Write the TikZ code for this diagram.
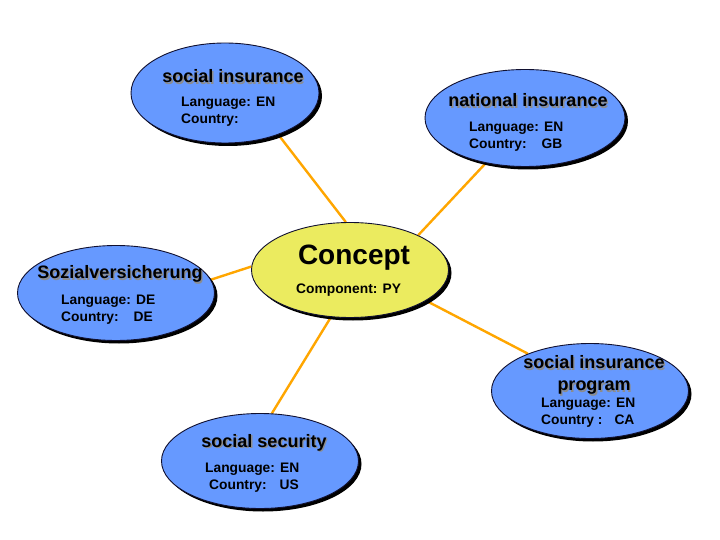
\documentclass[tikz,border=0pt]{standalone}
\usepackage{fontspec}
\setmainfont{Liberation Sans}
\usepackage{tikz}
\usetikzlibrary{positioning,shapes.geometric,shadows,backgrounds}
\definecolor{globo}{HTML}{6699FF}
\definecolor{nucleo}{HTML}{EBEB5F}
\definecolor{naranja}{HTML}{FFA600}
\definecolor{borde}{HTML}{101030}
\newcommand{\sombra}[1]{\makebox[0pt][l]{\hspace{1.3pt}\raisebox{-1.3pt}{\color{black!45}#1}}#1}
\tikzset{
  termino/.style={ellipse,draw=borde,line width=0.9pt,fill=globo,inner sep=0pt,
    minimum width=197pt,minimum height=95pt,
    drop shadow={shadow xshift=3pt,shadow yshift=-3pt,fill=black,opacity=1}},
  concepto/.style={termino,fill=nucleo},
  enlace/.style={draw=naranja,line width=2.4pt},
  titulo/.style={font=\fontsize{18}{21}\selectfont\bfseries,inner sep=0pt},
  dato/.style={font=\fontsize{13.8}{17}\selectfont\bfseries,align=left,inner sep=0pt,anchor=west},
}
\begin{document}
\begin{tikzpicture}[x=1pt,y=-1pt]
  \useasboundingbox (0,0) rectangle (720,540);
  \node[concepto] (concept) at (350,270) {};
  \node[termino,minimum width=188pt,minimum height=100pt] (si) at (225,93) {};
  \node[termino,minimum width=200pt,minimum height=97pt] (ni) at (525,118) {};
  \node[termino] (soz) at (116,293) {};
  \node[termino] (prog) at (590,391) {};
  \node[termino] (ss) at (260,461) {};
  % textos
  \node[font=\fontsize{28}{31}\selectfont\bfseries,inner sep=0pt] (concept-t) at (354,258) {Concept};
  \node[dato] (concept-d) at (296,290) {Component: PY};
  \node[titulo] (si-t) at (233,77) {\sombra{social insurance}};
  \node[dato] (si-d) at (181,112) {Language: EN\\Country:};
  \node[titulo] (ni-t) at (528,101) {\sombra{national insurance}};
  \node[dato] (ni-d) at (469,137) {Language: EN\\Country:\hspace{15pt}GB};
  \node[titulo] (soz-t) at (120,275) {\sombra{Sozialversicherung}};
  \node[dato] (soz-d) at (61,310) {Language: DE\\Country:\hspace{15pt}DE};
  \node[titulo,align=center,font=\fontsize{18}{22}\selectfont\bfseries] (prog-t) at (594,376) {\sombra{social insurance}\\\sombra{program}};
  \node[dato] (prog-d) at (541,413) {Language: EN\\Country :\hspace{12pt}CA};
  \node[titulo] (ss-t) at (264,443) {\sombra{social security}};
  \node[dato] (ss-d) at (205,478) {Language: EN\\\hspace{4pt}Country:\hspace{13pt}US};
  \begin{scope}[on background layer]
    \fill[white] (0,0) rectangle (720,540);
    \draw[enlace] (concept.95) -- (si.-38);
    \draw[enlace] (concept.27) -- (ni.-131);
    \draw[enlace] (concept.178) -- (soz.8);
    \draw[enlace] (concept.-22) -- (prog.149);
    \draw[enlace] (concept.-112) -- (ss.76);
  \end{scope}
\end{tikzpicture}
\end{document}
